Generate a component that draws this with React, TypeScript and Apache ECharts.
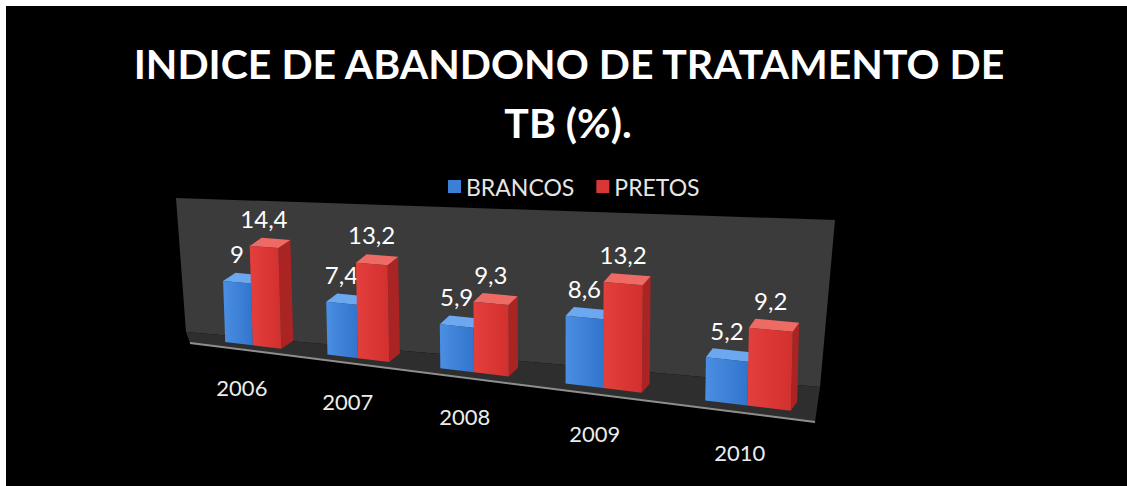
import React, { useEffect, useRef } from "react";
import * as echarts from "echarts";

// ---- data ----
const TITLE_LINES = ["INDICE DE ABANDONO DE TRATAMENTO DE", "TB (%)."];
const CATEGORIES = ["2006", "2007", "2008", "2009", "2010"];
const SERIES_NAMES = ["BRANCOS", "PRETOS"];
const BRANCOS = [9, 7.4, 5.9, 8.6, 5.2];
const PRETOS = [14.4, 13.2, 9.3, 13.2, 9.2];
const VALUE_MAX = 16;

// ---- perspective layout (front plane of the bars: unit square -> quad) ----
const PLANE_BL = [204, 339.4];
const PLANE_BR = [826, 415.1];
const PLANE_TR = [830, 275];
const PLANE_TL = [200, 231.4];
const WALL = [[176, 198], [835, 220], [820, 387], [186, 332]];
const FLOOR = [[186, 332], [820, 387], [815, 422], [190, 343]];
const BAR_FRAC = 0.28;
const DEPTH_X = [12.9, 5.9];
const DEPTH_Y = [-8, -9.2];
const LABEL_LIFT = 29;

const BLUE = { front0: "#4a8fe4", front1: "#3274cc", top: "#6ca8f0", side: "#2a5fae", legend: "#3b7fd6" };
const RED = { front0: "#e43f3c", front1: "#d2302e", top: "#ee6a64", side: "#a92423", legend: "#d93636" };

function makeHomography(p0: number[], p1: number[], p2: number[], p3: number[]) {
  const [x0, y0] = p0, [x1, y1] = p1, [x2, y2] = p2, [x3, y3] = p3;
  const dx1 = x1 - x2, dx2 = x3 - x2, dx3 = x0 - x1 + x2 - x3;
  const dy1 = y1 - y2, dy2 = y3 - y2, dy3 = y0 - y1 + y2 - y3;
  const den = dx1 * dy2 - dx2 * dy1;
  const g = (dx3 * dy2 - dx2 * dy3) / den;
  const h = (dx1 * dy3 - dx3 * dy1) / den;
  const a = x1 - x0 + g * x1, b = x3 - x0 + h * x3, c = x0;
  const d = y1 - y0 + g * y1, e = y3 - y0 + h * y3, f = y0;
  return (u: number, v: number) => {
    const w = g * u + h * v + 1;
    return [(a * u + b * v + c) / w, (d * u + e * v + f) / w];
  };
}
const proj = makeHomography(PLANE_BL, PLANE_BR, PLANE_TR, PLANE_TL);

function toUV(cs: any, p: number[]) {
  return [(p[0] - cs.x) / cs.width, (cs.y + cs.height - p[1]) / cs.height];
}
function depthVec(u: number) {
  return [DEPTH_X[0] + (DEPTH_X[1] - DEPTH_X[0]) * u, DEPTH_Y[0] + (DEPTH_Y[1] - DEPTH_Y[0]) * u];
}
const fmt = (v: number) => String(v).replace(".", ",");

function barRenderer(side: number, col: any) {
  return (params: any, api: any) => {
    const cs = params.coordSys;
    const cat = api.value(0);
    const val = api.value(1);
    const base = api.coord([cat, 0]);
    const top = api.coord([cat, val]);
    const band = api.size([1, 0])[0];
    const w = band * BAR_FRAC;
    const xa = side < 0 ? base[0] - w : base[0];
    const xb = xa + w;
    const [u0, v0] = toUV(cs, [xa, base[1]]);
    const [u1, v1] = toUV(cs, [xb, top[1]]);
    const A = proj(u0, v0), B = proj(u1, v0), C = proj(u1, v1), D = proj(u0, v1);
    const d = depthVec((u0 + u1) / 2);
    const add = (p: number[]) => [p[0] + d[0], p[1] + d[1]];
    const mid = proj((u0 + u1) / 2, v1);
    return {
      type: "group",
      children: [
        { type: "polygon", shape: { points: [B, C, add(C), add(B)] }, style: { fill: col.side } },
        { type: "polygon", shape: { points: [D, C, add(C), add(D)] }, style: { fill: col.top } },
        {
          type: "polygon",
          shape: { points: [A, B, C, D] },
          style: {
            fill: new echarts.graphic.LinearGradient(0, 0, 1, 0, [
              { offset: 0, color: col.front0 },
              { offset: 1, color: col.front1 },
            ]),
          },
        },
        {
          type: "text",
          x: mid[0],
          y: mid[1] - LABEL_LIFT,
          style: {
            text: fmt(val),
            fill: "#ffffff",
            font: "24px Lato",
            textAlign: "center",
            textVerticalAlign: "middle",
          },
        },
      ],
    };
  };
}

function categoryRenderer(params: any, api: any) {
  const cs = params.coordSys;
  const p = api.coord([api.value(0), 0]);
  const [u] = toUV(cs, p);
  const q = proj(u, 0);
  const t = (u - 0.1) / 0.8;
  return {
    type: "text",
    x: q[0] - 11 + 3.5 * t,
    y: q[1] + 42 + 5 * t,
    style: {
      text: CATEGORIES[params.dataIndex],
      fill: "#ececec",
      font: "22px Lato",
      textAlign: "center",
      textVerticalAlign: "middle",
    },
  };
}

export default function App() {
  const ref = useRef<HTMLDivElement>(null);
  useEffect(() => {
    const chart = echarts.init(ref.current as HTMLDivElement, null, { renderer: "svg" });
    const option: any = {
      animation: false,
      backgroundColor: "#ffffff",
      color: [BLUE.legend, RED.legend],
      grid: { left: 100, top: 100, width: 600, height: 300, show: false },
      xAxis: { type: "category", data: CATEGORIES, show: false, boundaryGap: true },
      yAxis: { type: "value", min: 0, max: VALUE_MAX, show: false },
      legend: {
        data: SERIES_NAMES,
        left: 448,
        top: 175,
        padding: 0,
        icon: "rect",
        itemWidth: 13,
        itemHeight: 13,
        itemGap: 22,
        selectedMode: false,
        textStyle: { color: "#e6e6e6", fontSize: 23, fontFamily: "Lato" },
      },
      graphic: [
        { type: "rect", z: 0, silent: true, shape: { x: 6, y: 6, width: 1121, height: 480 }, style: { fill: "#000000" } },
        { type: "polygon", z: 0, silent: true, shape: { points: WALL }, style: { fill: "#3b3b3b" } },
        { type: "polygon", z: 0, silent: true, shape: { points: FLOOR }, style: { fill: "#2e2e2e" } },
        {
          type: "line", z: 0, silent: true,
          shape: { x1: FLOOR[3][0], y1: FLOOR[3][1], x2: FLOOR[2][0], y2: FLOOR[2][1] },
          style: { stroke: "#8e8e8e", lineWidth: 2 },
        },
        {
          type: "text", z: 1, x: 569, y: 63,
          style: { text: TITLE_LINES[0], fill: "#ffffff", font: "bold 41px Lato", textAlign: "center", textVerticalAlign: "middle" },
        },
        {
          type: "text", z: 1, x: 568, y: 122,
          style: { text: TITLE_LINES[1], fill: "#ffffff", font: "bold 41px Lato", textAlign: "center", textVerticalAlign: "middle" },
        },
      ],
      series: [
        {
          name: SERIES_NAMES[0], type: "custom", z: 3, silent: true,
          itemStyle: { color: BLUE.legend },
          data: BRANCOS.map((v, i) => [i, v]),
          renderItem: barRenderer(-1, BLUE),
        },
        {
          name: SERIES_NAMES[1], type: "custom", z: 3, silent: true,
          itemStyle: { color: RED.legend },
          data: PRETOS.map((v, i) => [i, v]),
          renderItem: barRenderer(1, RED),
        },
        {
          name: "categorias", type: "custom", z: 3, silent: true,
          data: CATEGORIES.map((_, i) => [i, 0]),
          renderItem: categoryRenderer,
        },
      ],
    };
    chart.setOption(option);
    return () => chart.dispose();
  }, []);
  return <div ref={ref} style={{ position: "fixed", left: 0, top: 0, width: 1127, height: 486 }} />;
}
